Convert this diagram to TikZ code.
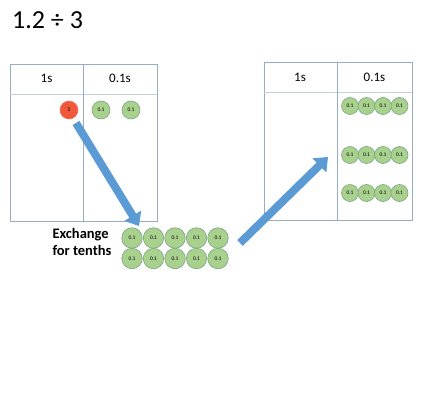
\documentclass[tikz,border=0pt]{standalone}
\usepackage{fontspec}
\setmainfont{Carlito}
\usetikzlibrary{arrows.meta}
\definecolor{tline}{RGB}{150,172,200}
\definecolor{hline}{RGB}{196,206,220}
\definecolor{gfill}{RGB}{169,209,142}
\definecolor{gdraw}{RGB}{125,165,135}
\definecolor{rfill}{RGB}{240,88,60}
\definecolor{rdraw}{RGB}{235,120,100}
\definecolor{arrblue}{RGB}{91,155,213}
\tikzset{
  tenth/.style={circle,fill=gfill,draw=gdraw,line width=0.6pt,minimum size=#1,inner sep=0pt,font=\fontsize{5.5}{5.5}\selectfont},
  tenth/.default=18pt,
  one/.style={circle,fill=rfill,draw=rdraw,line width=0.6pt,minimum size=18pt,inner sep=0pt,font=\fontsize{6}{6}\selectfont},
  tbl/.style={draw=tline,line width=0.7pt},
  hdr/.style={draw=hline,line width=0.7pt},
  head/.style={font=\fontsize{13}{13}\selectfont},
  bigarrow/.style={draw=arrblue,line width=8pt,-{Triangle[width=19pt,length=12pt]}},
}
\begin{document}
\begin{tikzpicture}[x=1pt,y=-1pt]
\useasboundingbox (0,0) rectangle (428,393);
% title
\node[anchor=west,font=\fontsize{26}{26}\selectfont,inner sep=0pt] (title) at (12,20) {1.2 ÷ 3};
% left table
\draw[tbl] (10,64) rectangle (157,221);
\draw[hdr] (10,94) -- (157,94);
\draw[tbl] (83,64) -- (83,221);
\node[head] (l1s) at (46.5,78) {1s};
\node[head] (l01s) at (120,78) {0.1s};
\node[one] (red) at (69,110) {1};
\node[tenth] (lg1) at (101,110) {0.1};
\node[tenth] (lg2) at (131,110) {0.1};
% right table
\draw[tbl] (264,62) rectangle (412,220);
\draw[hdr] (264,92) -- (412,92);
\draw[tbl] (337,62) -- (337,220);
\node[head] (r1s) at (300,77) {1s};
\node[head] (r01s) at (374.5,77) {0.1s};
\foreach \r/\y in {1/106,2/155,3/193}{
  \foreach \c/\x in {1/350,2/366.5,3/383,4/399.5}{
    \node[tenth=17pt] (rg\r\c) at (\x,\y) {0.1};
  }
}
% exchange grid
\node[font=\fontsize{14.5}{17}\selectfont\bfseries,align=left,inner sep=0pt] (exch) at (82,242) {Exchange\\for tenths};
\foreach \r/\y in {1/238,2/258.5}{
  \foreach \c/\x in {1/132,2/153.5,3/175,4/196.5,5/218}{
    \node[tenth=20.5pt] (eg\r\c) at (\x,\y) {0.1};
  }
}
% arrows
\coordinate (a1s) at (76,123);
\coordinate (a1e) at (139,226);
\coordinate (a2s) at (240,243);
\coordinate (a2e) at (328,157);
\draw[bigarrow] (a1s) -- (a1e);
\draw[bigarrow] (a2s) -- (a2e);
\end{tikzpicture}
\end{document}
